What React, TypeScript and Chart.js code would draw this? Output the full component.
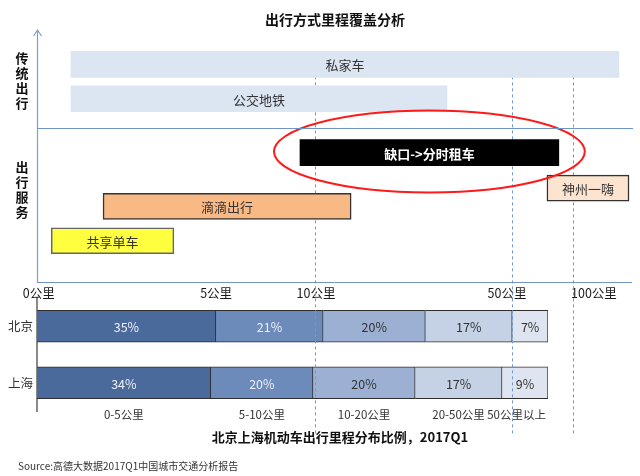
import React, { useEffect, useRef } from 'react';
import { Chart, registerables } from 'chart.js';

Chart.register(...registerables);

const FONT = '"Noto Sans CJK SC", "Noto Sans", sans-serif';

// ---------- Top chart data ----------
const chartTitle = '出行方式里程覆盖分析';
const groupLabels = ['传统出行', '出行服务'];
const groupCenters = [1.7, 6.45];
const groupDivider = 3.77;

const modes = ['私家车', '公交地铁', '缺口->分时租车', '神州一嗨', '滴滴出行', '共享单车'];
const modeStart = [5.7, 5.7, 44.2, 85.7, 11.1, 2.4];
const modeEnd = [97.8, 68.9, 87.7, 99.5, 52.8, 23.0];
const modeRow = [1.0, 2.5, 4.85, 6.4, 7.2, 8.7];
const highlightedMode = '缺口->分时租车';

const axisTickLabels = ['0公里', '5公里', '10公里', '50公里', '100公里'];
const axisLabelValues = [0.3, 30.1, 46.9, 79.0, 93.6];
const markerValues = [46.7, 79.8, 90.1];

// ---------- Bottom chart data ----------
const cities = ['北京', '上海'];
const distanceBands = ['0-5公里', '5-10公里', '10-20公里', '20-50公里', '50公里以上'];
const beijingShares = [35, 21, 20, 17, 7];
const shanghaiShares = [34, 20, 20, 17, 9];
const bottomTitle = '北京上海机动车出行里程分布比例，2017Q1';
const sourceNote = 'Source:高德大数据2017Q1中国城市交通分析报告';

// ---------- Styles ----------
const modeFill = ['#dce6f2', '#dce6f2', '#000000', '#fde4d0', '#f8b985', '#ffff40'];
const modeBorder = ['#dce6f2', '#dce6f2', '#000000', '#333333', '#333333', '#666666'];
const modeBorderWidth = [0, 0, 0, 1.5, 1.5, 1.5];
const bandFill = ['#4a6a9b', '#6c8aba', '#9bb0d2', '#c5d1e4', '#dfe5f0'];
const bandText = ['#eef1f6', '#eef1f6', '#333333', '#333333', '#333333'];
const MARKER_BOTTOM = 434;

const topPlugin = {
  id: 'topDecor',
  beforeDatasetsDraw(chart: any) {
    const { ctx, scales } = chart;
    const x = scales.x, y = scales.y;
    ctx.save();
    ctx.strokeStyle = '#6f98d6';
    ctx.lineWidth = 1;
    ctx.setLineDash([3, 3]);
    const yTop = y.getPixelForValue(modeRow[0]);
    markerValues.forEach((v) => {
      const px = Math.round(x.getPixelForValue(v)) + 0.5;
      ctx.beginPath();
      ctx.moveTo(px, yTop);
      ctx.lineTo(px, MARKER_BOTTOM);
      ctx.stroke();
    });
    ctx.restore();
  },
  afterDatasetsDraw(chart: any) {
    const { ctx } = chart;
    const meta = chart.getDatasetMeta(0);
    ctx.save();
    ctx.textAlign = 'center';
    ctx.textBaseline = 'middle';
    meta.data.forEach((el: any, i: number) => {
      const p = el.getProps(['x', 'y', 'base'], true);
      const cx = (p.x + p.base) / 2;
      const hl = modes[i] === highlightedMode;
      ctx.fillStyle = hl ? '#ffffff' : '#333333';
      ctx.font = (hl ? 'bold ' : '') + '13px ' + FONT;
      ctx.fillText(modes[i], cx, p.y + 1);
      if (hl) {
        const half = Math.abs(p.x - p.base) / 2;
        ctx.strokeStyle = '#ff1a1a';
        ctx.lineWidth = 2;
        ctx.beginPath();
        ctx.ellipse(cx, p.y - 1, half + 26, 41, 0, 0, Math.PI * 2);
        ctx.stroke();
      }
    });
    ctx.restore();
  },
  afterDraw(chart: any) {
    const { ctx, chartArea, scales } = chart;
    const y = scales.y;
    const { left, right, top, bottom } = chartArea;
    ctx.save();
    ctx.strokeStyle = '#7ea0d0';
    ctx.lineWidth = 1.2;
    ctx.beginPath();
    ctx.moveTo(left + 0.5, bottom);
    ctx.lineTo(left + 0.5, top);
    ctx.moveTo(left + 0.5 - 4, top + 6);
    ctx.lineTo(left + 0.5, top);
    ctx.lineTo(left + 0.5 + 4, top + 6);
    ctx.stroke();
    ctx.strokeStyle = '#6e94c8';
    ctx.lineWidth = 1;
    ctx.beginPath();
    ctx.moveTo(left, Math.round(bottom) + 0.5);
    ctx.lineTo(right, Math.round(bottom) + 0.5);
    const dy = Math.round(y.getPixelForValue(groupDivider)) + 0.5;
    ctx.moveTo(left, dy);
    ctx.lineTo(right + 1, dy);
    ctx.stroke();
    ctx.fillStyle = '#111111';
    ctx.font = 'bold 14px ' + FONT;
    ctx.textAlign = 'center';
    ctx.textBaseline = 'middle';
    ctx.fillText(chartTitle, 335, 20);
    ctx.font = 'bold 13px ' + FONT;
    groupLabels.forEach((lab, gi) => {
      const cy = y.getPixelForValue(groupCenters[gi]);
      const chars = Array.from(lab);
      const step = 15;
      const y0 = cy - ((chars.length - 1) * step) / 2;
      chars.forEach((c, ci) => ctx.fillText(c, 22, y0 + ci * step));
    });
    ctx.restore();
  },
};

const bottomPlugin = {
  id: 'bottomDecor',
  afterDatasetsDraw(chart: any) {
    const { ctx, chartArea } = chart;
    ctx.save();
    ctx.textAlign = 'center';
    ctx.textBaseline = 'middle';
    chart.data.datasets.forEach((ds: any, di: number) => {
      const meta = chart.getDatasetMeta(di);
      ctx.font = '12.5px ' + FONT;
      meta.data.forEach((el: any, i: number) => {
        const p = el.getProps(['x', 'y', 'base'], true);
        ctx.fillStyle = bandText[di];
        ctx.fillText(ds.data[i] + '%', (p.x + p.base) / 2, p.y + 1);
      });
      const el = meta.data[meta.data.length - 1];
      const p = el.getProps(['x', 'y', 'base'], true);
      ctx.fillStyle = '#333333';
      ctx.font = '11.5px ' + FONT;
      if (di === chart.data.datasets.length - 1) {
        ctx.textAlign = 'right';
        ctx.fillText(distanceBands[di], chartArea.right - 2, 415);
        ctx.textAlign = 'center';
      } else {
        ctx.fillText(distanceBands[di], (p.x + p.base) / 2, 415);
      }
    });
    ctx.fillStyle = '#111111';
    ctx.font = 'bold 13px ' + FONT;
    ctx.fillText(bottomTitle, 340, 437);
    ctx.textAlign = 'left';
    ctx.fillStyle = '#333333';
    ctx.font = '10px ' + FONT;
    ctx.fillText(sourceNote, 18, 466);
    ctx.restore();
  },
};

export default function App() {
  const topRef = useRef<HTMLCanvasElement>(null);
  const botRef = useRef<HTMLCanvasElement>(null);

  useEffect(() => {
    const bottom = new Chart(botRef.current as HTMLCanvasElement, {
      type: 'bar',
      data: {
        labels: cities,
        datasets: distanceBands.map((b, i) => ({
          label: b,
          data: [beijingShares[i], shanghaiShares[i]],
          backgroundColor: bandFill[i],
          borderColor: '#2e2e2e',
          borderWidth: 1,
          barThickness: 32,
        })),
      },
      options: {
        indexAxis: 'y',
        responsive: false,
        animation: false,
        events: [],
        layout: { padding: { top: 298, bottom: 65, left: 0, right: 92 } },
        plugins: { legend: { display: false }, tooltip: { enabled: false }, title: { display: false } },
        scales: {
          x: { stacked: true, min: 0, max: 100, display: false },
          y: {
            stacked: true,
            grid: { display: false, drawTicks: false },
            border: { display: true, color: '#8a8a8a', width: 2 },
            ticks: { color: '#333333', font: { size: 12.5, family: FONT }, padding: 4 },
            afterFit: (s: any) => { s.width = 37; },
          },
        },
      },
      plugins: [bottomPlugin],
    } as any);

    const top = new Chart(topRef.current as HTMLCanvasElement, {
      type: 'bar',
      data: {
        labels: modes,
        datasets: [
          {
            label: '出行方式',
            data: modes.map((m, i) => ({ x: [modeStart[i], modeEnd[i]], y: modeRow[i] })),
            backgroundColor: modeFill,
            borderColor: modeBorder,
            borderWidth: modeBorderWidth,
            borderSkipped: false,
            barThickness: 26,
          },
        ],
      },
      options: {
        indexAxis: 'y',
        responsive: false,
        animation: false,
        events: [],
        layout: { padding: { top: 30, bottom: 174, left: 37, right: 8 } },
        plugins: { legend: { display: false }, tooltip: { enabled: false }, title: { display: false } },
        scales: {
          x: {
            type: 'linear',
            position: 'bottom',
            min: 0,
            max: 100,
            grid: { display: false, drawTicks: false },
            border: { display: false },
            ticks: {
              autoSkip: false,
              maxRotation: 0,
              color: '#1a1a1a',
              font: { size: 12.5, family: FONT },
              padding: 4,
              callback: (_v: any, i: number) => axisTickLabels[i],
            },
            afterBuildTicks: (s: any) => { s.ticks = axisLabelValues.map((v) => ({ value: v })); },
            afterFit: (s: any) => { s.height = 20; },
          },
          y: { type: 'linear', min: 0, max: 10, reverse: true, display: false },
        },
      },
      plugins: [topPlugin],
    } as any);

    return () => { top.destroy(); bottom.destroy(); };
  }, []);

  return (
    <div style={{ position: 'absolute', left: 0, top: 0, width: 640, height: 476, background: '#ffffff' }}>
      <canvas ref={botRef} width={640} height={476} style={{ position: 'absolute', left: 0, top: 0 }} />
      <canvas ref={topRef} width={640} height={476} style={{ position: 'absolute', left: 0, top: 0 }} />
    </div>
  );
}
